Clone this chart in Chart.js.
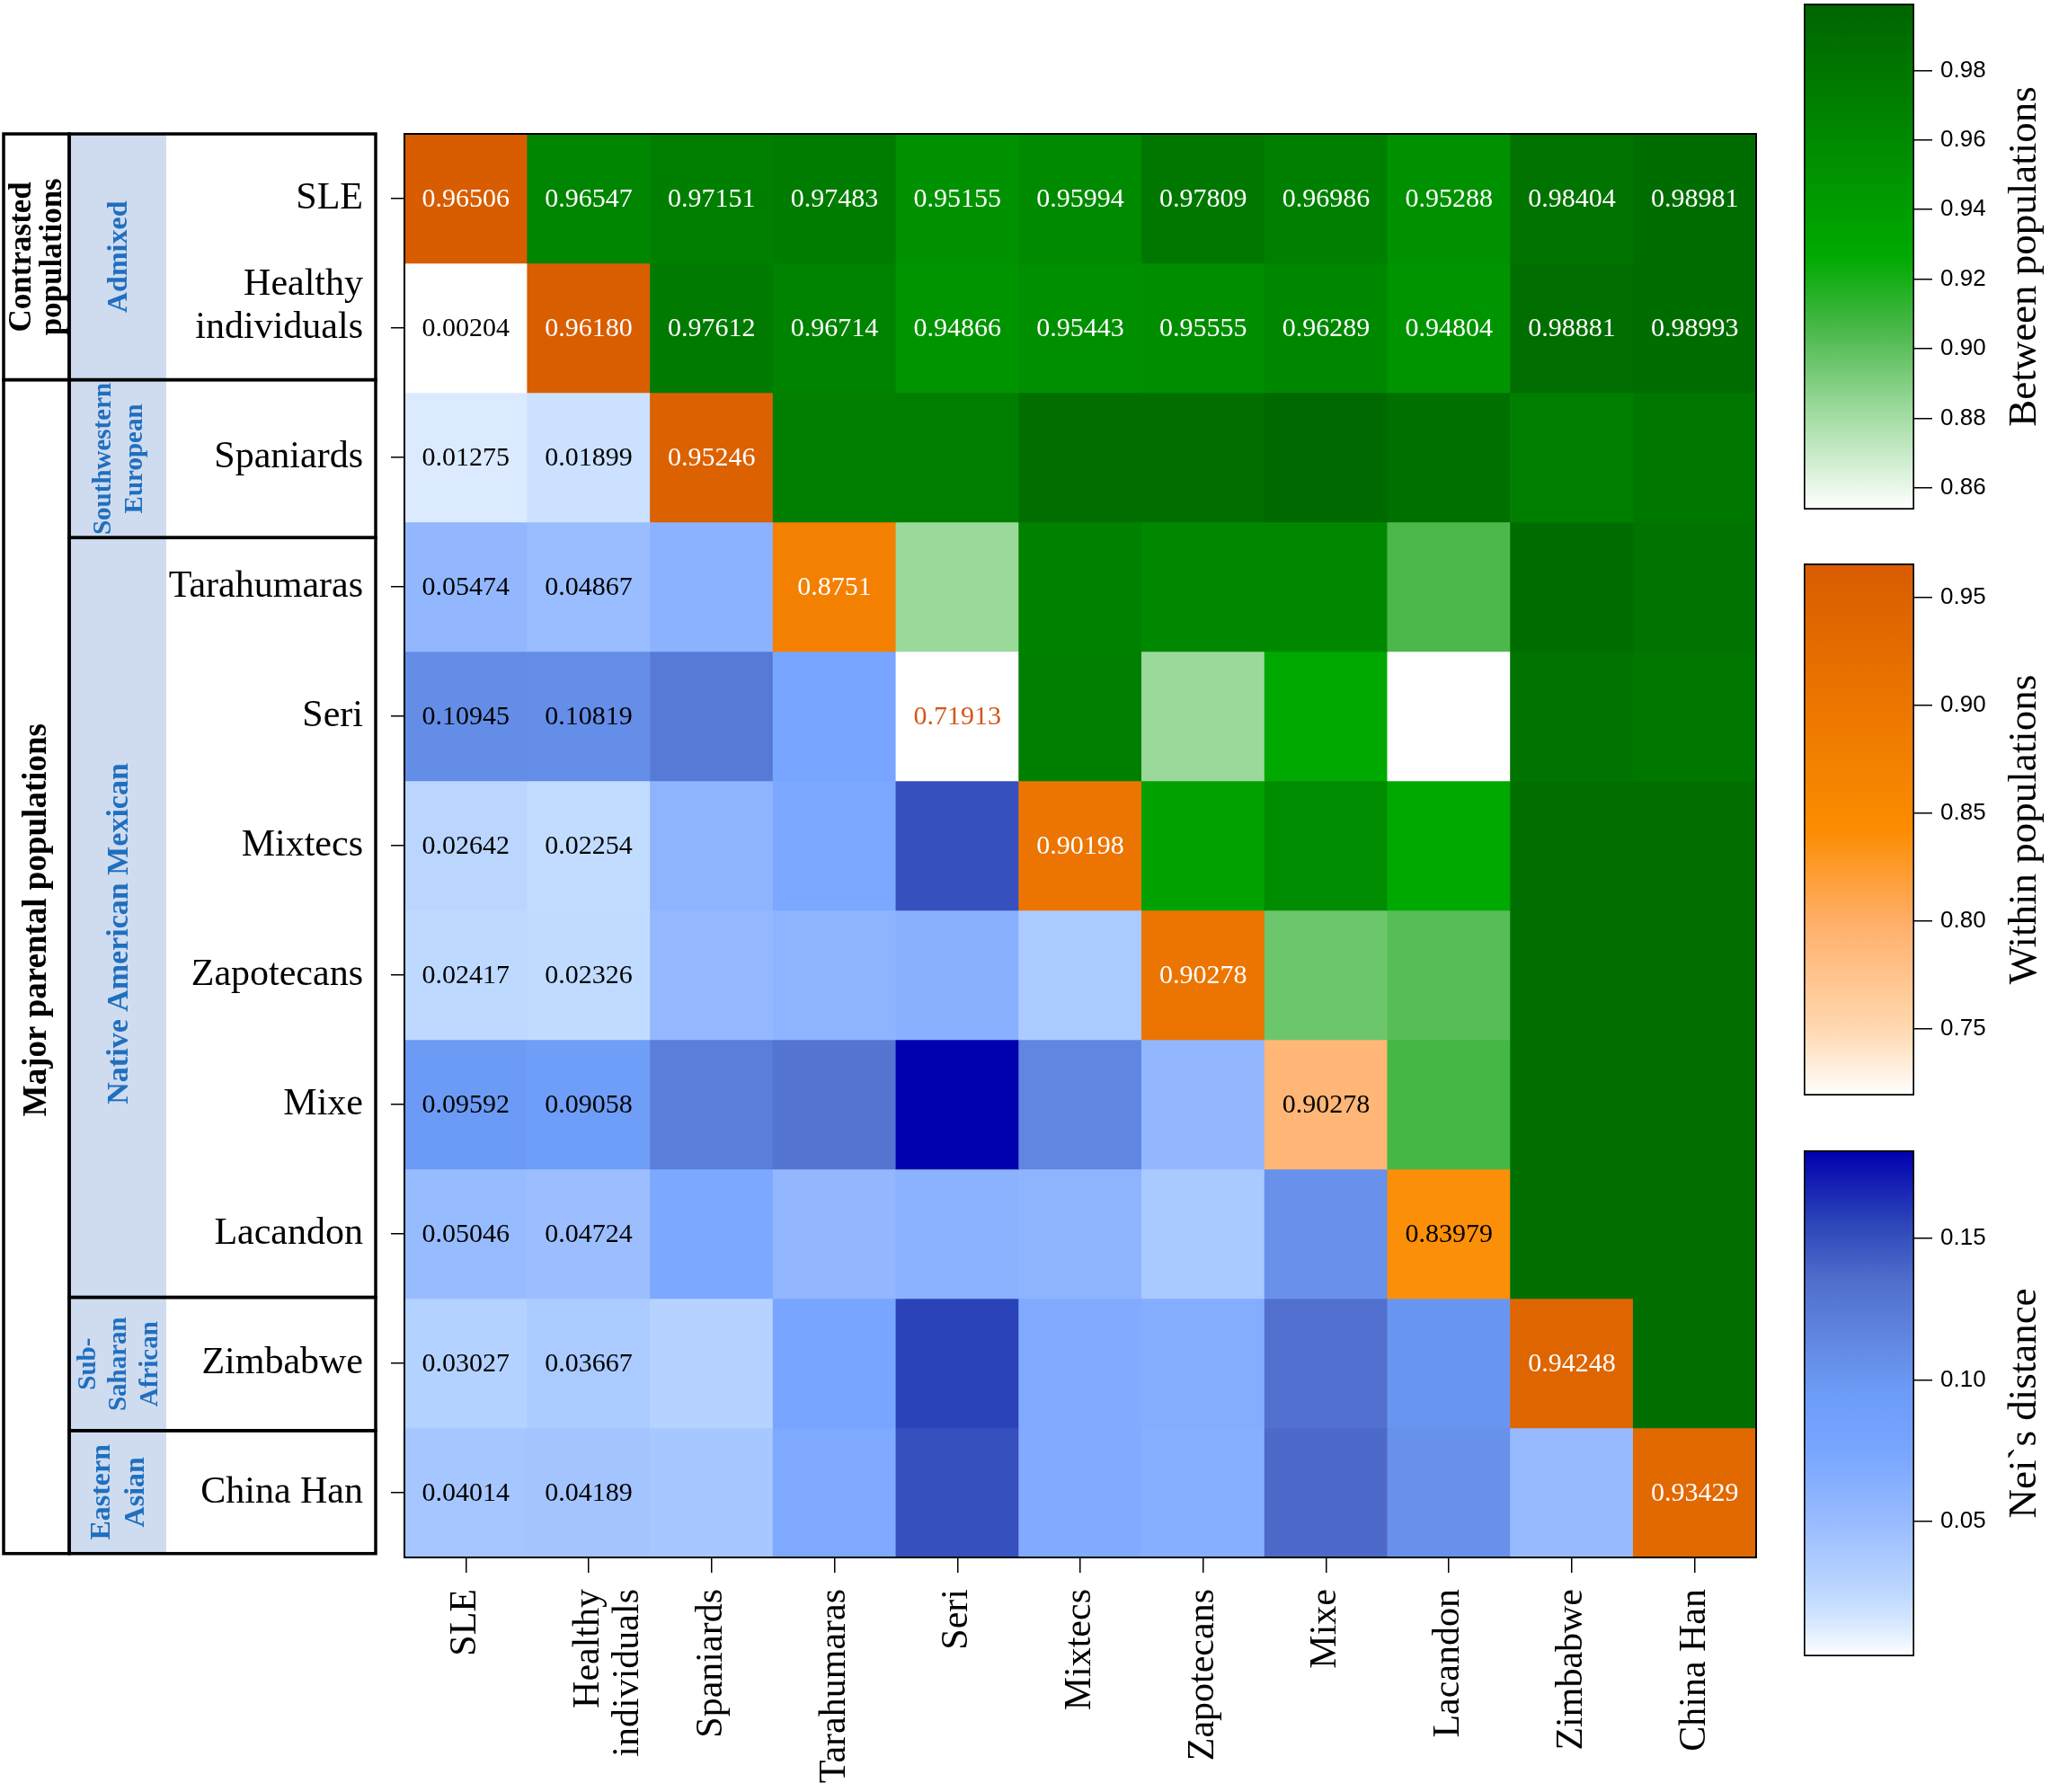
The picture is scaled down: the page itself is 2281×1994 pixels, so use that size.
<!DOCTYPE html>
<html>
<head>
<meta charset="utf-8">
<title>Nei's genetic identity and distance</title>
<script src="https://cdn.jsdelivr.net/npm/chart.js@4.4.1/dist/chart.umd.min.js"></script>
<style>
  html, body { margin: 0; padding: 0; background: #fff; overflow: hidden; }
  body { width: 2281px; height: 1994px; position: relative; }
  canvas { position: absolute; }
</style>
</head>
<body>
<canvas id="heatCanvas" width="2281" height="1994" style="left:0;top:0"></canvas>
<canvas id="greenBar" width="284" height="583" style="left:1997px;top:-6px"></canvas>
<canvas id="orangeBar" width="284" height="612" style="left:1997px;top:617px"></canvas>
<canvas id="blueBar" width="284" height="583" style="left:1997px;top:1270px"></canvas>
<script>
const populations = ['SLE', 'Healthy individuals', 'Spaniards', 'Tarahumaras', 'Seri', 'Mixtecs',
    'Zapotecans', 'Mixe', 'Lacandon', 'Zimbabwe', 'China Han'];
const tickLabels = ['SLE', ['Healthy', 'individuals'], 'Spaniards', 'Tarahumaras', 'Seri', 'Mixtecs',
    'Zapotecans', 'Mixe', 'Lacandon', 'Zimbabwe', 'China Han'];
// row labels: the two-line label sits a little above its tick in the figure
const rowTickLabels = ['SLE', ['Healthy', 'individuals', ''], 'Spaniards', 'Tarahumaras', 'Seri', 'Mixtecs',
    'Zapotecans', 'Mixe', 'Lacandon', 'Zimbabwe', 'China Han'];

// one row per population: above the diagonal = identity between populations,
// diagonal = within population, below the diagonal = Nei's distance
const sle        = [0.96506, 0.96547, 0.97151, 0.97483, 0.95155, 0.95994, 0.97809, 0.96986, 0.95288, 0.98404, 0.98981];
const healthy    = [0.00204, 0.96180, 0.97612, 0.96714, 0.94866, 0.95443, 0.95555, 0.96289, 0.94804, 0.98881, 0.98993];
const spaniards  = [0.01275, 0.01899, 0.95246, 0.971, 0.972, 0.988, 0.988, 0.993, 0.987, 0.971, 0.979];
const tarahumara = [0.05474, 0.04867, 0.060, 0.8751, 0.883, 0.969, 0.961, 0.961, 0.905, 0.990, 0.984];
const seri       = [0.10945, 0.10819, 0.125, 0.075, 0.71913, 0.970, 0.883, 0.928, 0.8538, 0.984, 0.979];
const mixtecs    = [0.02642, 0.02254, 0.058, 0.072, 0.150, 0.90198, 0.936, 0.958, 0.928, 0.988, 0.988];
const zapotecans = [0.02417, 0.02326, 0.053, 0.058, 0.062, 0.037, 0.90278, 0.896, 0.902, 0.988, 0.988];
const mixe       = [0.09592, 0.09058, 0.122, 0.130, 0.181, 0.115, 0.055, 0.79, 0.907, 0.988, 0.988];
const lacandon   = [0.05046, 0.04724, 0.072, 0.054, 0.060, 0.058, 0.038, 0.105, 0.83979, 0.988, 0.988];
const zimbabwe   = [0.03027, 0.03667, 0.029, 0.075, 0.156, 0.068, 0.066, 0.133, 0.102, 0.94248, 0.988];
const chinaHan   = [0.04014, 0.04189, 0.040, 0.070, 0.150, 0.068, 0.064, 0.137, 0.105, 0.051, 0.93429];
const rows = [sle, healthy, spaniards, tarahumara, seri, mixtecs, zapotecans, mixe, lacandon, zimbabwe, chinaHan];

// printed diagonal values (as written in the figure)
const withinLabels = ['0.96506', '0.96180', '0.95246', '0.8751', '0.71913', '0.90198',
    '0.90278', '0.90278', '0.83979', '0.94248', '0.93429'];

const greenTicks = [0.86, 0.88, 0.90, 0.92, 0.94, 0.96, 0.98];
const orangeTicks = [0.75, 0.80, 0.85, 0.90, 0.95];
const blueTicks = [0.05, 0.10, 0.15];

// group boxes of the left table, in row units (the boxes in the figure do not sit exactly on the rows)
const outerGroups = [
    { label: ['Contrasted', 'populations'], from: 0, to: 1.9 },
    { label: ['Major parental populations'], from: 1.9, to: 10.97 }
];
const innerGroups = [
    { label: ['Admixed'], from: 0, to: 1.9 },
    { label: ['Southwestern', 'European'], from: 1.9, to: 3.12 },
    { label: ['Native American Mexican'], from: 3.12, to: 8.99 },
    { label: ['Sub-', 'Saharan', 'African'], from: 8.99, to: 10.02 },
    { label: ['Eastern', 'Asian'], from: 10.02, to: 10.97 }
];

// colour scales
const greenRamp = { min: 0.8538, max: 0.9992, stops: [
    [0.8538, [255, 255, 255]], [0.8838, [152, 216, 152]], [0.905, [76, 184, 76]],
    [0.9265, [0, 170, 0]], [0.96, [0, 138, 0]], [0.9992, [0, 100, 0]]] };
const orangeRamp = { min: 0.7191, max: 0.9657, stops: [
    [0.7191, [255, 255, 255]], [0.75, [255, 216, 176]], [0.80, [255, 174, 104]],
    [0.843, [252, 140, 0]], [0.90, [236, 118, 0]], [0.9657, [216, 92, 0]]] };
const blueRamp = { min: 0.0024, max: 0.1811, stops: [
    [0.0024, [255, 255, 255]], [0.013, [218, 234, 255]], [0.025, [188, 216, 255]],
    [0.05, [152, 187, 255]], [0.075, [120, 165, 255]], [0.095, [108, 156, 246]],
    [0.11, [100, 140, 230]], [0.135, [80, 110, 205]], [0.155, [45, 70, 185]], [0.1811, [0, 0, 175]]] };

const SERIF = "'Liberation Serif', 'Times New Roman', serif";
const SANS = "'Liberation Sans', Arial, sans-serif";

function rampColor(ramp, v) {
    const s = ramp.stops;
    if (v <= s[0][0]) return 'rgb(' + s[0][1].join(',') + ')';
    for (let i = 1; i < s.length; i++) {
        if (v <= s[i][0]) {
            const t = (v - s[i - 1][0]) / (s[i][0] - s[i - 1][0]);
            const c = s[i - 1][1].map((a, k) => Math.round(a + (s[i][1][k] - a) * t));
            return 'rgb(' + c.join(',') + ')';
        }
    }
    return 'rgb(' + s[s.length - 1][1].join(',') + ')';
}

function cellColor(r, c, v) {
    if (r < c) return rampColor(greenRamp, v);
    if (r === c) return rampColor(orangeRamp, v);
    return rampColor(blueRamp, v);
}

const cellText = {
    id: 'cellText',
    afterDatasetsDraw(chart) {
        const ctx = chart.ctx;
        const area = chart.chartArea;
        ctx.save();
        ctx.font = '30px ' + SERIF;
        ctx.textAlign = 'center';
        ctx.textBaseline = 'middle';
        rows.forEach((vals, r) => {
            const meta = chart.getDatasetMeta(r);
            vals.forEach((v, c) => {
                if (r > 1 && c > 1 && r !== c) return;
                const p = meta.data[c].getCenterPoint();
                let text = v.toFixed(5);
                let color = r < c ? '#fff' : '#000';
                if (r === c) {
                    text = withinLabels[r];
                    color = v < 0.75 ? '#d4561a' : (v < 0.86 ? '#000' : '#fff');
                }
                ctx.fillStyle = color;
                ctx.fillText(text, p.x, p.y + 1);
            });
        });
        ctx.strokeStyle = '#000';
        ctx.lineWidth = 2;
        ctx.strokeRect(area.left, area.top, area.right - area.left, area.bottom - area.top);
        ctx.restore();
    }
};

// left hand table with the population groups
const tableX = { left: 4, split: 77, shade: 185, right: 418 };
const outerFontSizes = [35, 37];
const outerShift = [0, -52];
const innerFontSizes = [32, 29, 34, 29, 32];
const innerShift = [0, 0, 18, 0, 0];

function drawRotated(ctx, lines, cx, cy, font, color, lineH) {
    ctx.save();
    ctx.translate(cx, cy);
    ctx.rotate(-Math.PI / 2);
    ctx.font = font;
    ctx.fillStyle = color;
    ctx.textAlign = 'center';
    ctx.textBaseline = 'middle';
    lines.forEach((line, i) => {
        ctx.fillText(line, 0, (i - (lines.length - 1) / 2) * lineH);
    });
    ctx.restore();
}

const groupTable = {
    id: 'groupTable',
    afterDraw(chart) {
        const y = chart.scales.y;
        const ctx = chart.ctx;
        const top = y.getPixelForValue(outerGroups[0].from);
        const bottom = y.getPixelForValue(outerGroups[outerGroups.length - 1].to);
        ctx.save();
        ctx.fillStyle = '#cfdbef';
        ctx.fillRect(tableX.split, top, tableX.shade - tableX.split, bottom - top);
        ctx.strokeStyle = '#000';
        ctx.lineWidth = 3.5;
        outerGroups.forEach((g, i) => {
            const y0 = y.getPixelForValue(g.from);
            const y1 = y.getPixelForValue(g.to);
            ctx.strokeRect(tableX.left, y0, tableX.split - tableX.left, y1 - y0);
            drawRotated(ctx, g.label, (tableX.left + tableX.split) / 2 + 1, (y0 + y1) / 2 + outerShift[i],
                'bold ' + outerFontSizes[i] + 'px ' + SERIF, '#000', 34);
        });
        innerGroups.forEach((g, i) => {
            const y0 = y.getPixelForValue(g.from);
            const y1 = y.getPixelForValue(g.to);
            ctx.strokeRect(tableX.split, y0, tableX.right - tableX.split, y1 - y0);
            const size = innerFontSizes[i];
            drawRotated(ctx, g.label, (tableX.split + tableX.shade) / 2 + 2, (y0 + y1) / 2 + innerShift[i],
                'bold ' + size + 'px ' + SERIF, '#1f6fbf', size * 1.2);
        });
        ctx.restore();
    }
};

new Chart(document.getElementById('heatCanvas'), {
    type: 'bar',
    data: {
        labels: tickLabels,
        datasets: rows.map((vals, r) => ({
            label: populations[r],
            data: vals.map(() => [r, r + 1]),
            backgroundColor: vals.map((v, c) => cellColor(r, c, v)),
            borderWidth: 0,
            barPercentage: 1,
            categoryPercentage: 1,
            grouped: false
        }))
    },
    options: {
        responsive: false,
        animation: false,
        devicePixelRatio: 1,
        layout: { padding: { top: 149, right: 327, left: 0, bottom: 0 } },
        plugins: { legend: { display: false }, tooltip: { enabled: false } },
        scales: {
            x: {
                offset: true,
                afterFit: s => { s.height = 261; },
                grid: { offset: false, drawOnChartArea: false, tickLength: 17, color: '#000', lineWidth: 1.5 },
                border: { display: false },
                ticks: {
                    autoSkip: false, minRotation: 90, maxRotation: 90, padding: 18, color: '#000',
                    font: { family: SERIF, size: 42, lineHeight: 1.05 }
                }
            },
            y: {
                type: 'linear',
                reverse: true,
                min: 0,
                max: populations.length,
                afterBuildTicks: s => { s.ticks = populations.map((p, i) => ({ value: i + 0.5 })); },
                afterFit: s => { s.width = 450; },
                grid: { drawOnChartArea: false, tickLength: 15, color: '#000', lineWidth: 1.5 },
                border: { display: false },
                ticks: {
                    autoSkip: false, padding: 31, color: '#000',
                    font: { family: SERIF, size: 42, lineHeight: 1.15 },
                    callback: (v, i) => rowTickLabels[i]
                }
            }
        }
    },
    plugins: [cellText, groupTable]
});

// colour bars
function gradientFor(chart, ramp) {
    const area = chart.chartArea;
    if (!area) return 'rgba(0,0,0,0)';
    const y = chart.scales.y;
    const g = chart.ctx.createLinearGradient(0, y.getPixelForValue(ramp.min), 0, y.getPixelForValue(ramp.max));
    ramp.stops.forEach(([v, rgb]) => {
        g.addColorStop((v - ramp.min) / (ramp.max - ramp.min), 'rgb(' + rgb.join(',') + ')');
    });
    return g;
}

const barTitle = {
    id: 'barTitle',
    afterDraw(chart, args, opts) {
        const area = chart.chartArea;
        drawRotated(chart.ctx, [opts.text], area.right + 123, (area.top + area.bottom) / 2,
            '45px ' + SERIF, '#000', 45);
    }
};

function makeColorBar(id, ramp, ticks, title) {
    new Chart(document.getElementById(id), {
        type: 'bar',
        data: {
            labels: [''],
            datasets: [{
                data: [[ramp.min, ramp.max]],
                backgroundColor: c => gradientFor(c.chart, ramp),
                borderColor: '#000',
                borderWidth: 2,
                borderSkipped: false,
                barPercentage: 1,
                categoryPercentage: 1
            }]
        },
        options: {
            responsive: false,
            animation: false,
            devicePixelRatio: 1,
            layout: { padding: { top: 10, bottom: 10, left: 10, right: 0 } },
            plugins: { legend: { display: false }, tooltip: { enabled: false }, barTitle: { text: title } },
            scales: {
                x: { display: false },
                y: {
                    position: 'right',
                    min: ramp.min,
                    max: ramp.max,
                    afterBuildTicks: s => { s.ticks = ticks.map(v => ({ value: v })); },
                    afterFit: s => { s.width = 151; s.paddingTop = 0; s.paddingBottom = 0; },
                    grid: { drawOnChartArea: false, tickLength: 20, color: '#000', lineWidth: 1.5 },
                    border: { display: false },
                    ticks: {
                        autoSkip: false, color: '#000', padding: 9,
                        font: { family: SANS, size: 26 },
                        callback: v => v.toFixed(2)
                    }
                }
            }
        },
        plugins: [barTitle]
    });
}

makeColorBar('greenBar', greenRamp, greenTicks, 'Between populations');
makeColorBar('orangeBar', orangeRamp, orangeTicks, 'Within populations');
makeColorBar('blueBar', blueRamp, blueTicks, 'Nei`s distance');
</script>
</body>
</html>
